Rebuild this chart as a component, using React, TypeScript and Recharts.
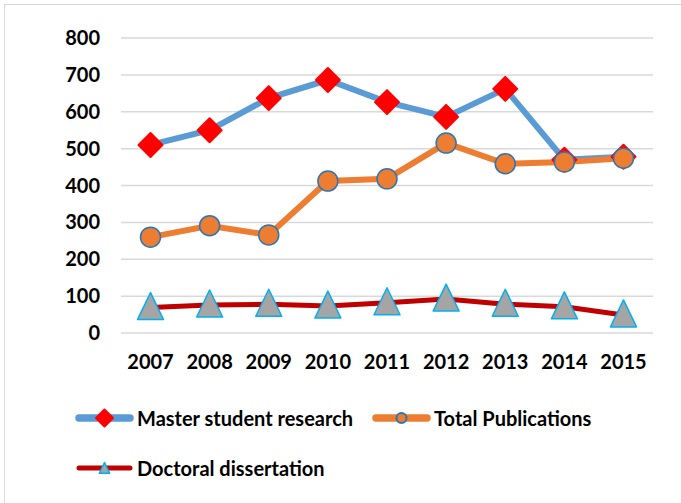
import { LineChart, Line, XAxis, YAxis, CartesianGrid } from 'recharts';

// values
const years = ['2007', '2008', '2009', '2010', '2011', '2012', '2013', '2014', '2015'];
const masterResearch = [510, 550, 637, 686, 626, 586, 662, 470, 478];
const totalPublications = [260, 291, 266, 412, 418, 515, 459, 464, 474];
const doctoralDissertation = [69, 76, 78, 73, 82, 92, 78, 71, 49];
const yTicks = [0, 100, 200, 300, 400, 500, 600, 700, 800];

const data = years.map((year, i) => ({
  year,
  master: masterResearch[i],
  total: totalPublications[i],
  doctoral: doctoralDissertation[i],
}));

const FONT = 'Lato, "Open Sans", sans-serif';

const Diamond = ({ cx, cy, s = 12 }: { cx: number; cy: number; s?: number }) => (
  <path
    d={`M${cx},${cy - s} L${cx + s},${cy} L${cx},${cy + s} L${cx - s},${cy} Z`}
    fill="#ff0000"
    stroke="#ff0000"
    strokeWidth={2}
    strokeLinejoin="round"
  />
);

const Circle = ({ cx, cy, r = 10, sw = 1.5 }: { cx: number; cy: number; r?: number; sw?: number }) => (
  <circle cx={cx} cy={cy} r={r} fill="#ed7d31" stroke="#2e75b6" strokeWidth={sw} />
);

const Triangle = ({ cx, cy, s = 1 }: { cx: number; cy: number; s?: number }) => (
  <path
    d={`M${cx},${cy - 15 * s} L${cx + 13 * s},${cy + 12 * s} L${cx - 13 * s},${cy + 12 * s} Z`}
    fill="#a5a5a5"
    stroke="#00b0f0"
    strokeWidth={1.5}
    strokeLinejoin="round"
  />
);

const legendItems = [
  { name: 'Master student research', color: '#5b9bd5', width: 7.5, marker: 'diamond', x: 72, y: 418 },
  { name: 'Total Publications', color: '#ed7d31', width: 7.5, marker: 'circle', x: 369, y: 418 },
  { name: 'Doctoral dissertation', color: '#c00000', width: 5, marker: 'triangle', x: 72, y: 468 },
];

function LegendIcon({ item }: { item: (typeof legendItems)[number] }) {
  return (
    <svg width={65} height={26} style={{ display: 'block' }}>
      <line x1={7} y1={13} x2={58} y2={13} stroke={item.color} strokeWidth={item.width} strokeLinecap="round" />
      {item.marker === 'diamond' && <Diamond cx={32.5} cy={13} s={8.5} />}
      {item.marker === 'circle' && <Circle cx={32.5} cy={13} r={5} sw={2} />}
      {item.marker === 'triangle' && <Triangle cx={32.5} cy={13.5} s={0.4} />}
    </svg>
  );
}

export default function App() {
  return (
    <div
      style={{
        position: 'fixed',
        left: 0,
        top: 0,
        width: 681,
        height: 503,
        overflow: 'hidden',
        background: '#fff',
        fontFamily: FONT,
      }}
    >
      <div
        style={{
          position: 'absolute',
          left: 4,
          top: 4,
          width: 700,
          height: 520,
          border: '1.5px solid #d9d9d9',
        }}
      />
      <LineChart
        width={681}
        height={503}
        data={data}
        margin={{ top: 38, right: 28, left: 0, bottom: 130 }}
        style={{ position: 'absolute', left: 0, top: 0 }}
      >
        <CartesianGrid vertical={false} stroke="#d9d9d9" strokeWidth={1.5} />
        <XAxis
          dataKey="year"
          axisLine={false}
          tickLine={false}
          tickSize={0}
          tickMargin={22}
          height={40}
          padding={{ left: 29.5, right: 29.5 }}
          tick={{ fill: '#000', fontSize: 20, fontWeight: 700, fontFamily: FONT }}
          interval={0}
        />
        <YAxis
          domain={[0, 800]}
          ticks={yTicks}
          width={121}
          axisLine={false}
          tickLine={false}
          tickSize={0}
          tickMargin={21}
          tick={{ fill: '#000', fontSize: 20, fontWeight: 700, fontFamily: FONT }}
        />
        <Line
          dataKey="master"
          name="Master student research"
          stroke="#5b9bd5"
          strokeWidth={6}
          isAnimationActive={false}
          dot={(p: any) => <Diamond key={`m-${p.index}`} cx={p.cx} cy={p.cy} />}
        />
        <Line
          dataKey="total"
          name="Total Publications"
          stroke="#ed7d31"
          strokeWidth={6}
          isAnimationActive={false}
          dot={(p: any) => <Circle key={`t-${p.index}`} cx={p.cx} cy={p.cy} />}
        />
        <Line
          dataKey="doctoral"
          name="Doctoral dissertation"
          stroke="#c00000"
          strokeWidth={5}
          isAnimationActive={false}
          dot={(p: any) => <Triangle key={`d-${p.index}`} cx={p.cx} cy={p.cy} />}
        />
      </LineChart>
      {legendItems.map((item) => (
        <div
          key={item.name}
          style={{
            position: 'absolute',
            left: item.x,
            top: item.y - 13,
            display: 'flex',
            alignItems: 'center',
            fontSize: 20,
            fontWeight: 700,
            color: '#000',
            whiteSpace: 'nowrap',
          }}
        >
          <LegendIcon item={item} />
          <span>{item.name}</span>
        </div>
      ))}
    </div>
  );
}
